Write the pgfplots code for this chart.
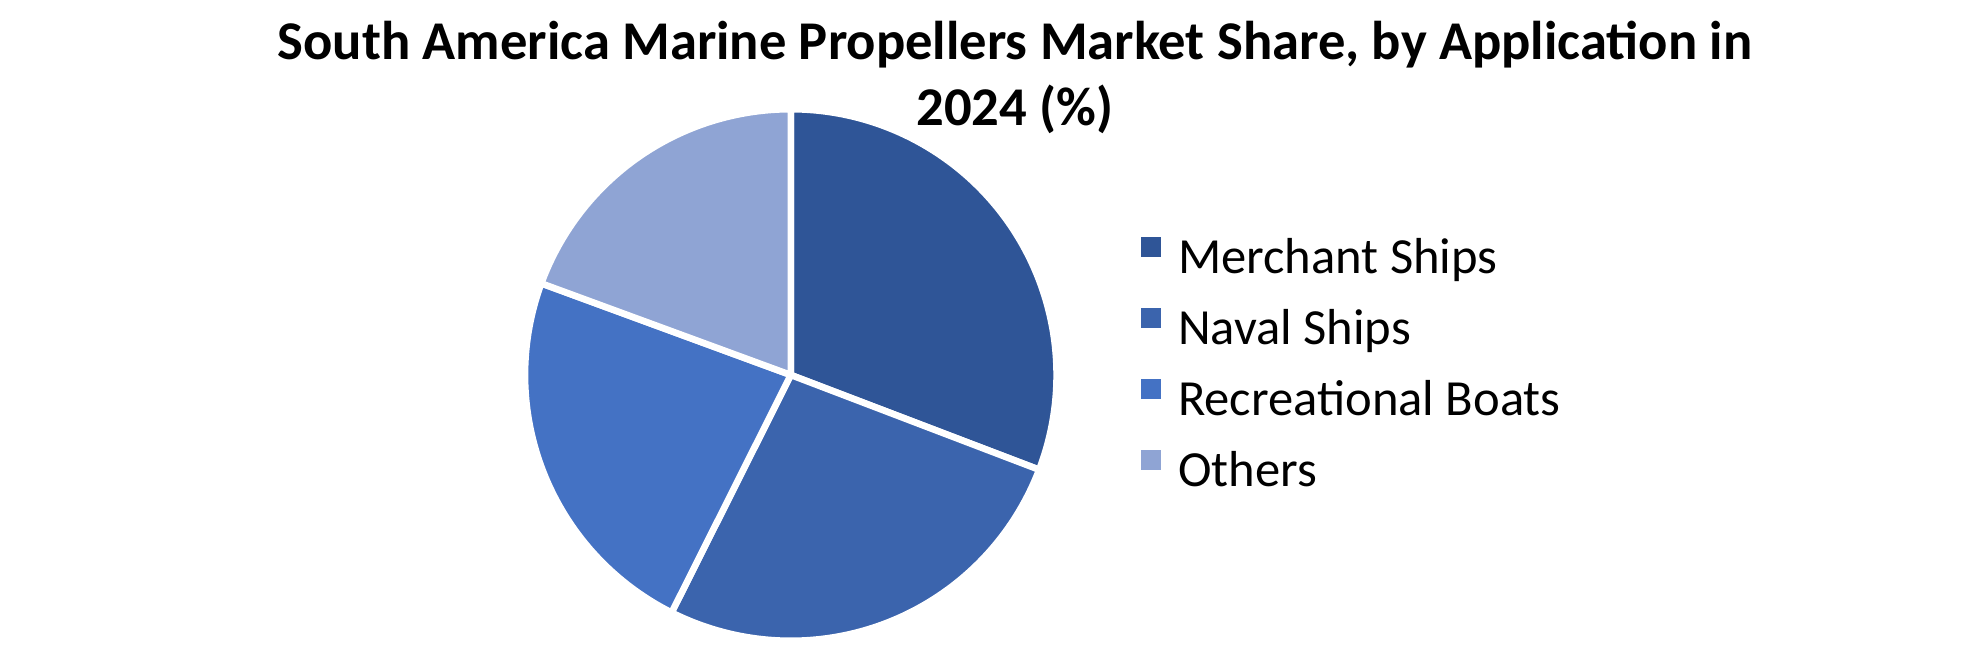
\documentclass[border=0pt]{standalone}
\usepackage{fontspec}
\setmainfont{Carlito}
\usepackage{pgfplots}
\pgfplotsset{compat=1.18}

\definecolor{merchant}{RGB}{47,85,151}
\definecolor{naval}{RGB}{59,100,173}
\definecolor{recreational}{RGB}{68,114,196}
\definecolor{others}{RGB}{143,164,212}

% running start angle of the pie, clockwise from the top
\def\startang{90}
\newcommand{\pieslice}[3]{%
  \pgfmathsetmacro\endang{\startang}%
  \pgfmathsetmacro\beginang{\startang-3.6*#1}%
  \edef\doslice{\noexpand\addplot[fill=#2, draw=white, line width=3.3pt,
      line join=round, data cs=polar, domain=\beginang:\endang, samples=120,
      legend image code/.code={\noexpand\path[fill=#2, draw=none] (0pt,2.25pt) rectangle (10pt,12.25pt);}]
      (x,1) -- (axis cs:0,0) -- cycle;}%
  \doslice
  \addlegendentry{#3}%
  \global\let\startang\beginang
}

\begin{document}
\begin{tikzpicture}
\path (0,0) rectangle (990pt,321.5pt);

\node[anchor=base, font=\fontsize{27.3}{32}\selectfont\bfseries] at (507.5pt,291.9pt)
  {South America Marine Propellers Market Share, by Application in};
\node[anchor=base, font=\fontsize{27.3}{32}\selectfont\bfseries] at (507.5pt,258.5pt)
  {2024 (\%)};

\begin{axis}[
  at={(395.4pt,134pt)}, anchor=center,
  width=265.8pt, height=265.8pt,
  scale only axis,
  hide axis,
  clip=false,
  xmin=-1, xmax=1, ymin=-1, ymax=1,
  legend cell align=left,
  legend style={
    at={(1.1588,0.5154)}, anchor=west,
    draw=none, fill=none, inner sep=0pt,
    font=\fontsize{25.3}{30}\selectfont,
    row sep=12.25pt,
    nodes={inner xsep=0pt, inner ysep=0pt, text height=17pt, text depth=5pt},
    /tikz/every odd column/.append style={column sep=8.3pt},
  },
]
\pieslice{30.8}{merchant}{Merchant Ships}
\pieslice{26.6}{naval}{Naval Ships}
\pieslice{23.2}{recreational}{Recreational Boats}
\pieslice{19.4}{others}{Others}
\end{axis}
\end{tikzpicture}
\end{document}
